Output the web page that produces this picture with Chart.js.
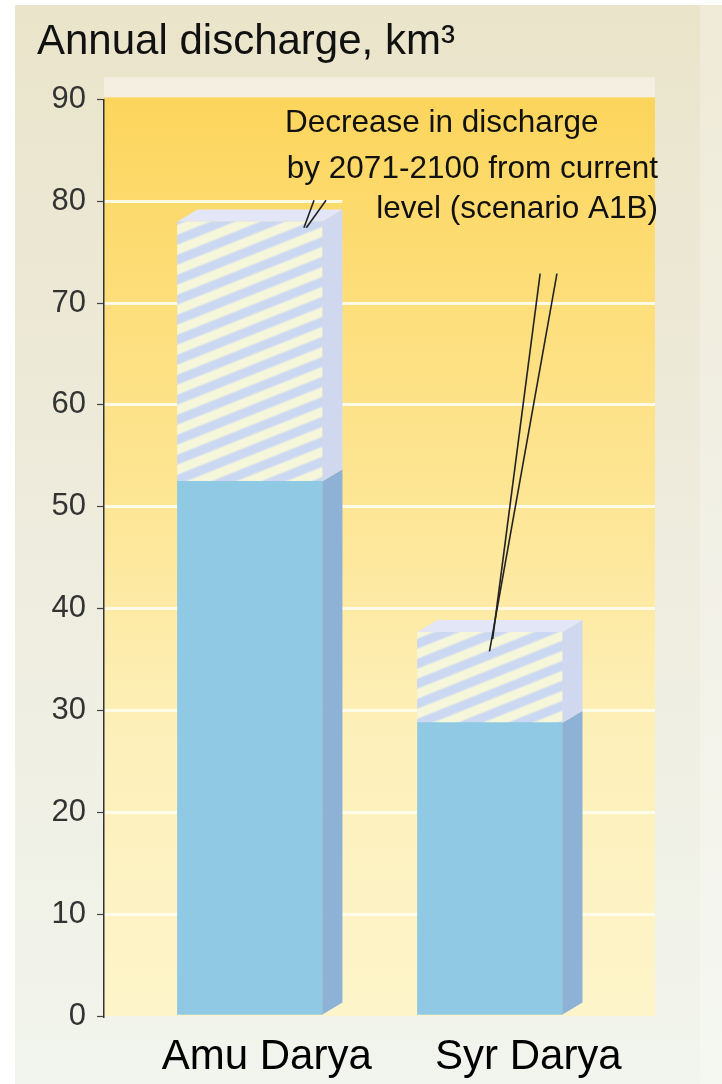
<!DOCTYPE html>
<html>
<head>
<meta charset="utf-8">
<script src="https://cdn.jsdelivr.net/npm/chart.js@4.4.1/dist/chart.umd.min.js"></script>
<style>
  html, body { margin: 0; padding: 0; background: #fff; }
</style>
</head>
<body>
<canvas id="bars" width="722" height="1084"></canvas>
<script>
const RIVERS = ['Amu Darya', 'Syr Darya'];
const RIVER_POS = [1, 2];
const LABEL_POS = [1.07, 2.16];      // names sit a little right of the bars
const CURRENT_LEVEL = [78, 37.7];   // km3, current discharge
const FUTURE_LEVEL = [52.5, 28.8];  // km3, 2071-2100 (A1B)
const Y_TICKS = [0, 10, 20, 30, 40, 50, 60, 70, 80, 90];
const NOTE_LINES = ['Decrease in discharge', 'by 2071-2100 from current', 'level (scenario A1B)'];
// leader lines of the note, in data units [x, y]
const LEADERS = [
  [[1.267, 80.1], [1.225, 77.4]],
  [[1.317, 80.1], [1.235, 77.4]],
  [[2.209, 72.9], [2.011, 37.0]],
  [[2.279, 72.9], [1.998, 35.8]],
];

const DX = 20, DY = 12; // depth of the 3d bars
const FONT = "'Liberation Sans', Arial, sans-serif";

const canvas = document.getElementById('bars');
const ctx = canvas.getContext('2d');

// diagonal stripes for the decrease part
function stripes() {
  const c = document.createElement('canvas');
  c.width = 50; c.height = 20;
  const g = c.getContext('2d');
  const img = g.createImageData(50, 20);
  const a = [203, 216, 241], b = [246, 247, 218];
  for (let y = 0; y < 20; y++) {
    for (let x = 0; x < 50; x++) {
      const t = ((y + 0.4 * x) % 20) / 20;
      let s = 0.5 + 0.5 * Math.cos(t * 2 * Math.PI);
      s = Math.min(1, Math.max(0, (s - 0.3) * 2.5));
      const i = (y * 50 + x) * 4;
      for (let k = 0; k < 3; k++) img.data[i + k] = a[k] * (1 - s) + b[k] * s;
      img.data[i + 3] = 255;
    }
  }
  g.putImageData(img, 0, 0);
  return ctx.createPattern(c, 'repeat');
}

function plotGradient(c, area) {
  const g = c.createLinearGradient(0, area.top, 0, area.bottom);
  g.addColorStop(0, 'rgb(252,213,92)');
  g.addColorStop(0.22, 'rgb(253,222,122)');
  g.addColorStop(0.45, 'rgb(253,230,150)');
  g.addColorStop(0.7, 'rgb(253,240,186)');
  g.addColorStop(1, 'rgb(253,244,202)');
  return g;
}

const backdrop = {
  id: 'backdrop',
  beforeDraw(chart) {
    const c = chart.ctx, a = chart.chartArea;
    c.save();
    c.fillStyle = '#fff';
    c.fillRect(0, 0, chart.width, chart.height);
    const g = c.createLinearGradient(0, 5, 0, chart.height);
    g.addColorStop(0, 'rgb(234,228,202)');
    g.addColorStop(0.5, 'rgb(238,236,222)');
    g.addColorStop(1, 'rgb(242,245,237)');
    c.fillStyle = g;
    c.fillRect(15, 5, chart.width - 15, chart.height - 5);
    c.fillStyle = 'rgba(255,255,255,0.25)';
    c.fillRect(a.right + 45, 5, chart.width - a.right - 45, chart.height - 5);
    c.fillStyle = 'rgba(255,250,245,0.5)';
    c.fillRect(a.left, a.top - 22, a.right - a.left, 20);
    c.fillStyle = plotGradient(c, a);
    c.fillRect(a.left, a.top - 2, a.right - a.left, a.bottom - a.top + 2);
    c.restore();
  },
  beforeDatasetsDraw(chart) {
    // the note sits on a clear patch, hiding the gridline behind it
    const c = chart.ctx, a = chart.chartArea;
    const bar = chart.getDatasetMeta(1).data[0];
    const x0 = bar.x + bar.width / 2 + DX;
    const y1 = chart.scales.y.getPixelForValue(76);
    c.save();
    c.fillStyle = plotGradient(c, a);
    c.fillRect(x0, a.top, a.right - x0, y1 - a.top);
    c.restore();
  }
};

const faces = {
  id: 'faces',
  afterDatasetsDraw(chart) {
    const c = chart.ctx;
    c.save();
    chart.data.datasets.forEach((ds, di) => {
      chart.getDatasetMeta(di).data.forEach(bar => {
        const p = bar.getProps(['x', 'y', 'base', 'width'], true);
        const l = p.x - p.width / 2, r = p.x + p.width / 2;
        const top = Math.min(p.y, p.base), bot = Math.max(p.y, p.base);
        c.fillStyle = ds.sideColor;
        c.beginPath();
        c.moveTo(r, top); c.lineTo(r + DX, top - DY);
        c.lineTo(r + DX, bot - DY); c.lineTo(r, bot);
        c.closePath(); c.fill();
        if (ds.topColor) {
          c.fillStyle = ds.topColor;
          c.beginPath();
          c.moveTo(l, top); c.lineTo(l + DX, top - DY);
          c.lineTo(r + DX, top - DY); c.lineTo(r, top);
          c.closePath(); c.fill();
        }
      });
    });
    c.restore();
  },
  afterDraw(chart) {
    const c = chart.ctx, a = chart.chartArea;
    const xs = chart.scales.x, ys = chart.scales.y;
    c.save();
    c.strokeStyle = '#222';
    c.lineWidth = 1.6;
    LEADERS.forEach(([p, q]) => {
      c.beginPath();
      c.moveTo(xs.getPixelForValue(p[0]), ys.getPixelForValue(p[1]));
      c.lineTo(xs.getPixelForValue(q[0]), ys.getPixelForValue(q[1]));
      c.stroke();
    });
    c.fillStyle = '#111';
    c.font = '31.5px ' + FONT;
    c.textBaseline = 'alphabetic';
    c.textAlign = 'left';
    c.fillText(NOTE_LINES[0], a.left + 181, a.top + 33);
    c.textAlign = 'right';
    c.fillText(NOTE_LINES[1], a.right + 3, a.top + 79);
    c.fillText(NOTE_LINES[2], a.right + 3, a.top + 119);
    c.restore();
  }
};

const data = {
  datasets: [
    {
      label: 'Discharge 2071-2100',
      data: RIVER_POS.map((x, i) => ({ x: x, y: FUTURE_LEVEL[i] })),
      backgroundColor: 'rgb(143,201,227)',
      sideColor: 'rgb(142,178,214)',
      barThickness: 145,
      grouped: false,
    },
    {
      label: 'Decrease',
      data: RIVER_POS.map((x, i) => ({ x: x, y: [FUTURE_LEVEL[i], CURRENT_LEVEL[i]] })),
      backgroundColor: stripes(),
      sideColor: 'rgb(207,216,239)',
      topColor: 'rgb(226,230,246)',
      barThickness: 145,
      grouped: false,
    }
  ]
};

const config = {
  type: 'bar',
  data: data,
  plugins: [backdrop, faces],
  options: {
    responsive: false,
    animation: false,
    layout: { padding: { left: 37, right: 67, top: 0, bottom: 0 } },
    plugins: {
      legend: { display: false },
      tooltip: { enabled: false },
      title: {
        display: true,
        text: 'Annual discharge, km³',
        align: 'start',
        color: '#111',
        font: { family: FONT, size: 42, weight: 'normal' },
        padding: { top: 17, bottom: 32 }
      }
    },
    scales: {
      x: {
        type: 'linear',
        min: 0.392,
        max: 2.6875,
        offset: false,
        afterBuildTicks: s => { s.ticks = LABEL_POS.map(v => ({ value: v })); },
        afterFit: s => { s.height = 68; },
        ticks: {
          autoSkip: false,
          maxRotation: 0,
          padding: 8,
          color: '#000',
          font: { family: FONT, size: 42 },
          callback: v => RIVERS[LABEL_POS.indexOf(v)]
        },
        grid: { display: false, offset: false },
        border: { display: false }
      },
      y: {
        min: 0,
        max: 90,
        afterBuildTicks: s => { s.ticks = Y_TICKS.map(v => ({ value: v })); },
        afterFit: s => { s.width = 67; },
        ticks: {
          padding: 11,
          color: '#333',
          font: { family: FONT, size: 31 }
        },
        grid: {
          color: c => (c.tick && (c.tick.value === 0 || c.tick.value === 90)) ? 'rgba(0,0,0,0)' : 'rgba(255,252,235,0.95)',
          lineWidth: 3,
          tickColor: '#444',
          tickLength: 7,
          tickWidth: 1.2
        },
        border: { color: '#333', width: 1.5 }
      }
    }
  }
};

new Chart(ctx, config);
</script>
</body>
</html>
